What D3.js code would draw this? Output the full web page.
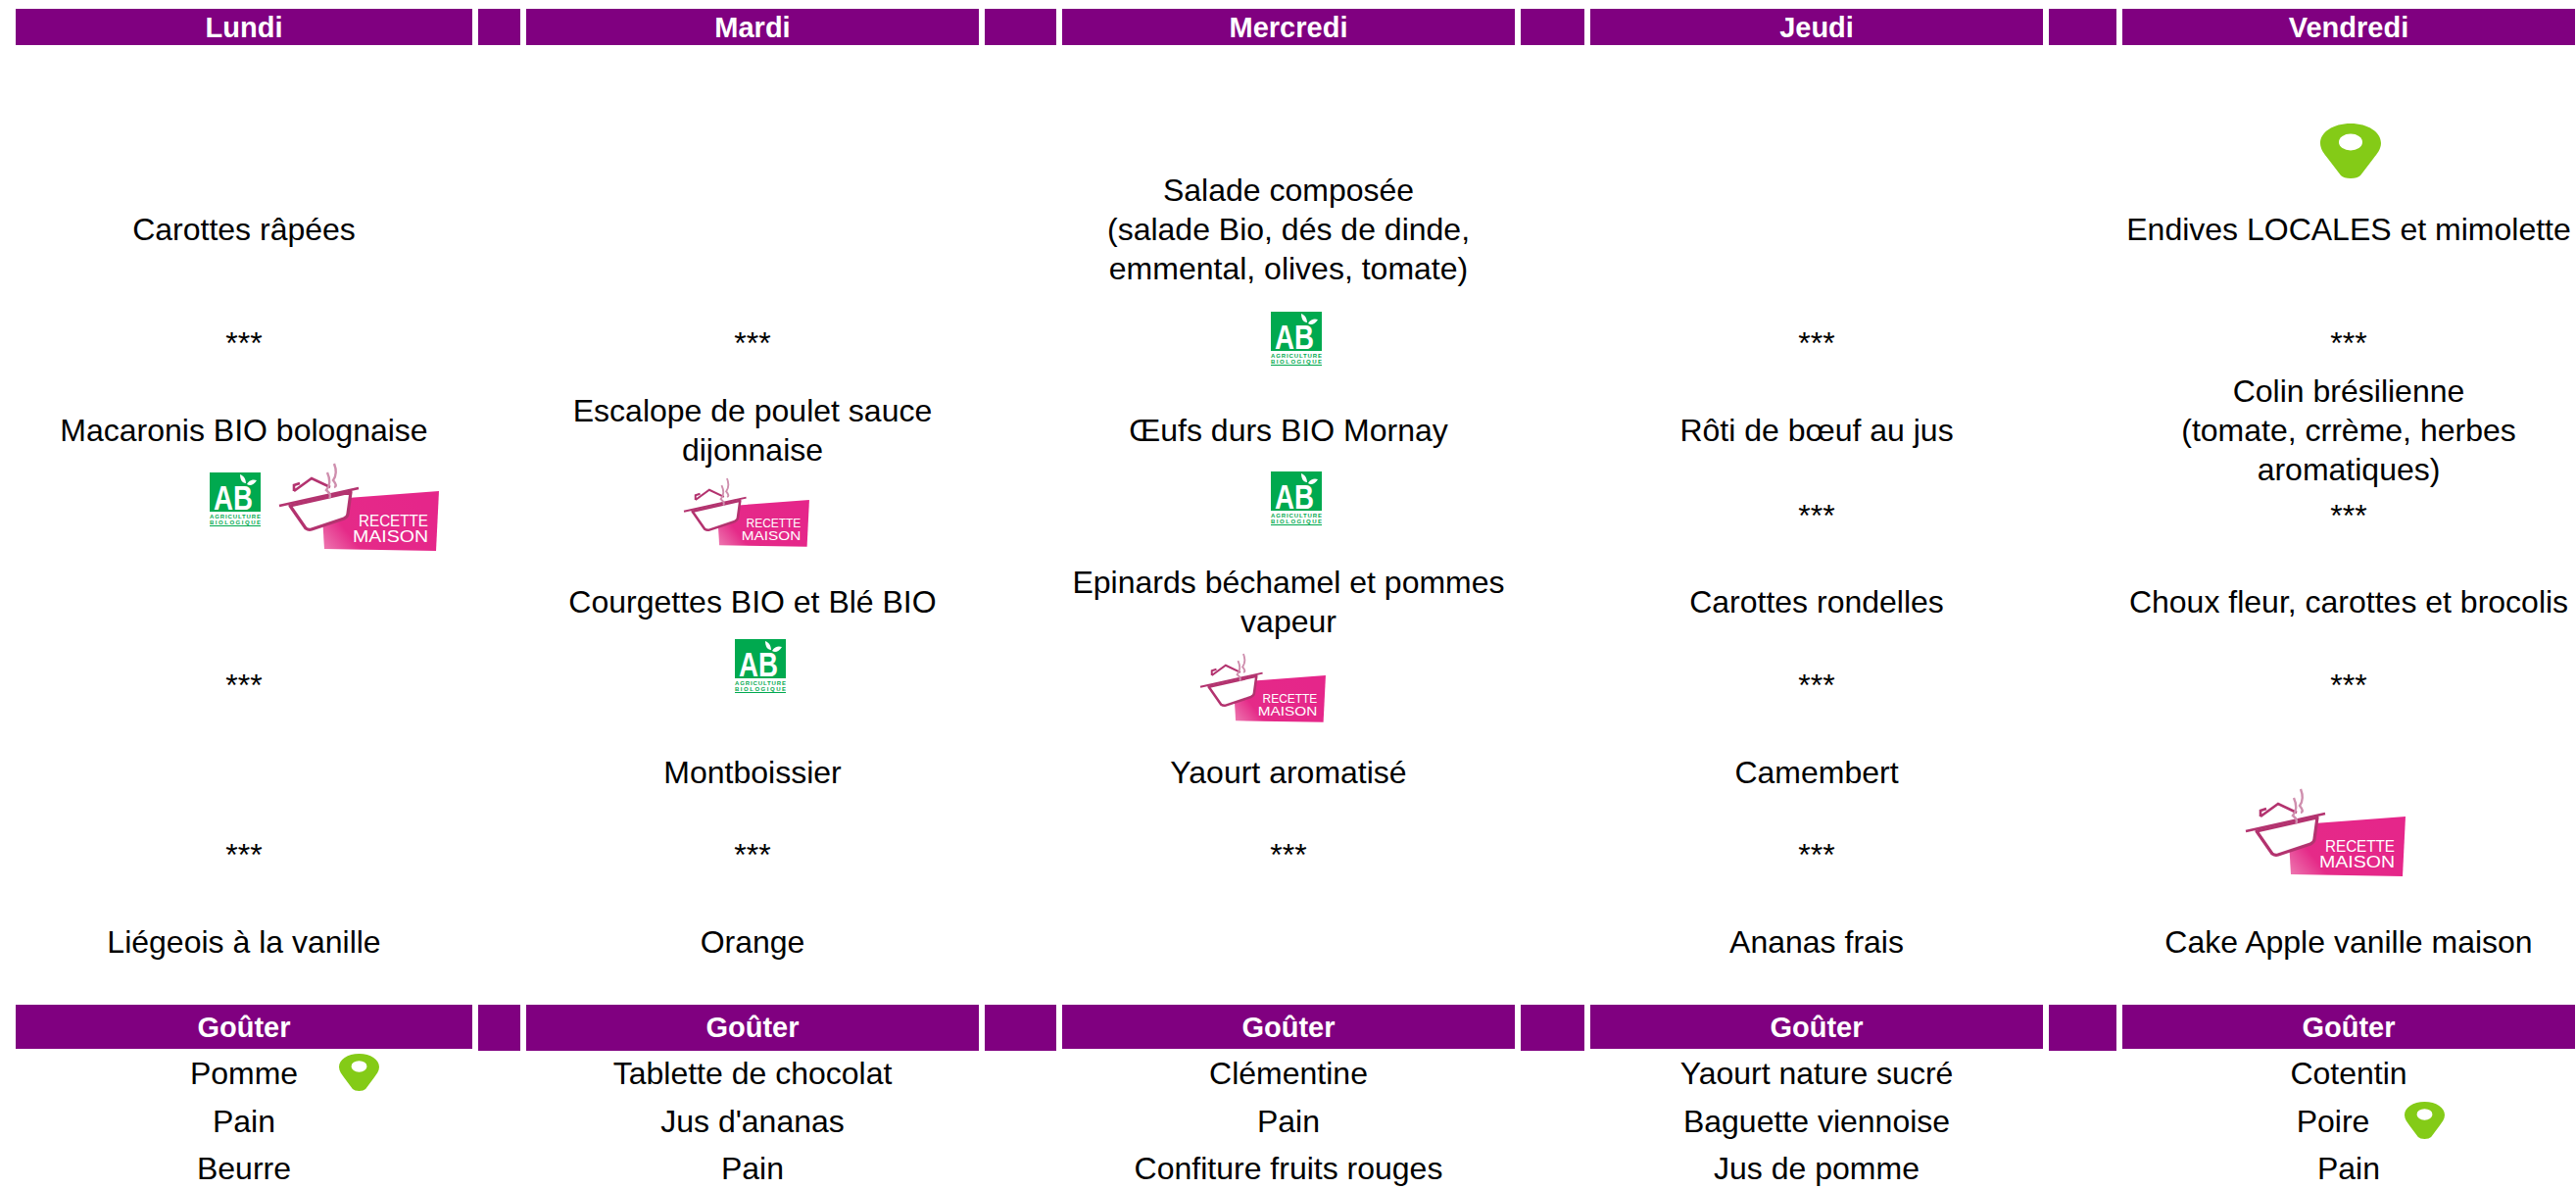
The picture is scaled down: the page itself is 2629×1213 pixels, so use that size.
<!DOCTYPE html>
<html>
<head>
<meta charset="utf-8">
<script src="https://cdnjs.cloudflare.com/ajax/libs/d3/7.8.5/d3.min.js"></script>
<style>
html, body { margin: 0; padding: 0; background: #fff; overflow: hidden; }
text { font-family: "Liberation Sans", Arial, sans-serif; }
</style>
</head>
<body>
<script>
var width = 2629;
var height = 1213;
var purple = "#800080";

var days = ["Lundi", "Mardi", "Mercredi", "Jeudi", "Vendredi"];
var gaps = ["gap1", "gap2", "gap3", "gap4"];
var snackTitle = "Goûter";
var stars = "***";

// one entry per table row, an entry is the list of lines of that cell
var rows = ["entree", "sep1", "plat", "sep2", "legume", "sep3", "fromage", "sep4", "dessert", "gouter1", "gouter2", "gouter3"];
var lundi = [["Carottes râpées"], [stars], ["Macaronis BIO bolognaise"], [], [], [stars], [], [stars], ["Liégeois à la vanille"], ["Pomme"], ["Pain"], ["Beurre"]];
var mardi = [[], [stars], ["Escalope de poulet sauce", "dijonnaise"], [], ["Courgettes BIO et Blé BIO"], [], ["Montboissier"], [stars], ["Orange"], ["Tablette de chocolat"], ["Jus d'ananas"], ["Pain"]];
var mercredi = [["Salade composée", "(salade Bio, dés de dinde,", "emmental, olives, tomate)"], [], ["Œufs durs BIO Mornay"], [], ["Epinards béchamel et pommes", "vapeur"], [], ["Yaourt aromatisé"], [stars], [], ["Clémentine"], ["Pain"], ["Confiture fruits rouges"]];
var jeudi = [[], [stars], ["Rôti de bœuf au jus"], [stars], ["Carottes rondelles"], [stars], ["Camembert"], [stars], ["Ananas frais"], ["Yaourt nature sucré"], ["Baguette viennoise"], ["Jus de pomme"]];
var vendredi = [["Endives LOCALES et mimolette"], [stars], ["Colin brésilienne", "(tomate, crrème, herbes", "aromatiques)"], [stars], ["Choux fleur, carottes et brocolis"], [stars], [], [], ["Cake Apple vanille maison"], ["Cotentin"], ["Poire"], ["Pain"]];
var menus = [lundi, mardi, mercredi, jeudi, vendredi];

var columns = ["Lundi", "gap1", "Mardi", "gap2", "Mercredi", "gap3", "Jeudi", "gap4", "Vendredi"];
var colLeft = d3.scaleOrdinal().domain(columns).range([16, 488, 537, 1005, 1084, 1552, 1623, 2091, 2166]);
var colRight = d3.scaleOrdinal().domain(columns).range([482, 531, 999, 1078, 1546, 1617, 2085, 2160, 2628]);
var rowY = d3.scaleOrdinal().domain(rows).range([234, 350, 439, 526, 614, 699, 788, 872, 961, 1095, 1144, 1192]);
var colMid = function(c) { return (colLeft(c) + colRight(c)) / 2; };

var svg = d3.select("body").append("svg")
	.attr("width", width)
	.attr("height", height)
	.style("display", "block");

var defs = svg.append("defs");
var grad = defs.append("linearGradient").attr("id", "pinkFade").attr("x1", "0").attr("x2", "1").attr("y1", "1").attr("y2", "0.6");
grad.append("stop").attr("offset", "0").attr("stop-color", "#ee7fb4");
grad.append("stop").attr("offset", "0.3").attr("stop-color", "#e52a88");
grad.append("stop").attr("offset", "1").attr("stop-color", "#e5268a");

// purple header bars
function headerBar(top, dayBottom, gapBottom, label) {
	svg.append("g").selectAll("rect").data(columns).enter().append("rect")
		.attr("x", d => colLeft(d))
		.attr("y", top)
		.attr("width", d => colRight(d) - colLeft(d))
		.attr("height", d => ((d == "Mardi" || gaps.indexOf(d) >= 0) ? gapBottom : dayBottom) - top)
		.attr("fill", purple);
	svg.append("g").selectAll("text").data(days).enter().append("text")
		.attr("x", d => colMid(d))
		.attr("y", (top + dayBottom) / 2)
		.attr("dy", ".35em")
		.attr("text-anchor", "middle")
		.attr("font-size", "29px")
		.attr("font-weight", "bold")
		.attr("fill", "#fff")
		.text(d => label || d);
}
headerBar(9, 46, 46, null);
headerBar(1025, 1070, 1072, snackTitle);

// menu text
var lineHeight = 40;
days.forEach(function(day, i) {
	menus[i].forEach(function(lines, r) {
		var shift = (day == "Vendredi" && rows[r] == "gouter2") ? -16 : 0;
		svg.append("g").selectAll("text").data(lines).enter().append("text")
			.attr("x", colMid(day) + shift)
			.attr("y", (d, k) => rowY(rows[r]) + (k - (lines.length - 1) / 2) * lineHeight)
			.attr("dy", ".35em")
			.attr("text-anchor", "middle")
			.attr("font-size", "32px")
			.attr("fill", "#000")
			.text(d => d);
	});
});

// logos, drawn on their own local grid
function abLogo(x, y) {
	var g = svg.append("g").attr("transform", "translate(" + x + "," + y + ")");
	var green = "#00a94f";
	g.append("rect").attr("width", 52).attr("height", 40).attr("fill", green);
	g.append("text").attr("x", 4).attr("y", 38).attr("font-size", "35px").attr("font-weight", "bold").attr("fill", "#fff").attr("textLength", 40).attr("lengthAdjust", "spacingAndGlyphs").text("AB");
	g.append("path").attr("d", "M31,2 C34,3 37,6 37,11 C33,11 31,7 31,2 Z M38,12 C41,7 45,7 48,8 C45,13 41,14 38,12 Z").attr("fill", "#fff");
	g.append("text").attr("x", 0).attr("y", 46.5).attr("font-size", "6px").attr("font-weight", "bold").attr("fill", green).attr("textLength", 52).text("AGRICULTURE");
	g.append("text").attr("x", 0).attr("y", 53).attr("font-size", "6px").attr("font-weight", "bold").attr("fill", green).attr("textLength", 52).text("BIOLOGIQUE");
	g.append("rect").attr("y", 54).attr("width", 52).attr("height", 1).attr("fill", green);
}

function recetteLogo(x, y, k) {
	var g = svg.append("g").attr("transform", "translate(" + x + "," + y + ") scale(" + k + ") translate(-12,-15)");
	var plum = "#b3336f";
	g.append("path").attr("d", "M55,52 L175,43 L172,104 L58,102 Z").attr("fill", "url(#pinkFade)");
	g.append("path").attr("d", "M23,58 L39,81 Q42,83 45,82 L78,71 Q82,69 82,66 L85,44 Z").attr("fill", "#fff").attr("stroke", plum).attr("stroke-width", 3.2).attr("stroke-linejoin", "round");
	g.append("path").attr("d", "M12,58 L93,40 M27,43 L45,30 L64,39 M27,43 L27,37 L33,35").attr("fill", "none").attr("stroke", plum).attr("stroke-width", 2.6);
	g.append("path").attr("d", "M61,24 Q66,35 60,42 Q66,47 63,50 M68,15 Q72,25 67,32 Q72,38 68,39").attr("fill", "none").attr("stroke", "#cf8fae").attr("stroke-width", 2.4);
	g.append("text").attr("x", 93).attr("y", 79).attr("font-size", "16px").attr("fill", "#fff").attr("textLength", 71).attr("lengthAdjust", "spacingAndGlyphs").text("RECETTE");
	g.append("text").attr("x", 87).attr("y", 95).attr("font-size", "17px").attr("fill", "#fff").attr("textLength", 77).attr("lengthAdjust", "spacingAndGlyphs").text("MAISON");
}

function pinLogo(x, y, w, h) {
	var g = svg.append("g").attr("transform", "translate(" + x + "," + y + ") scale(" + (w / 62) + "," + (h / 56) + ")");
	g.append("path").attr("d", "M31,0 C49,0 62,9 62,20 C62,26 58,31 54,36 L41,53 Q38,56 31,56 Q24,56 21,53 L8,36 C4,31 0,26 0,20 C0,9 13,0 31,0 Z").attr("fill", "#84cb17");
	g.append("ellipse").attr("cx", 31).attr("cy", 19).attr("rx", 12).attr("ry", 8.5).attr("fill", "#fff");
}

abLogo(214, 482);
recetteLogo(285, 473, 1);
recetteLogo(698, 488, 0.785);
abLogo(750, 652);
abLogo(1297, 318);
abLogo(1297, 481);
recetteLogo(1225, 667, 0.785);
recetteLogo(2292, 805, 1);
pinLogo(2368, 126, 62, 56);
pinLogo(346, 1075, 41, 38);
pinLogo(2454, 1124, 41, 38);
</script>
</body>
</html>
